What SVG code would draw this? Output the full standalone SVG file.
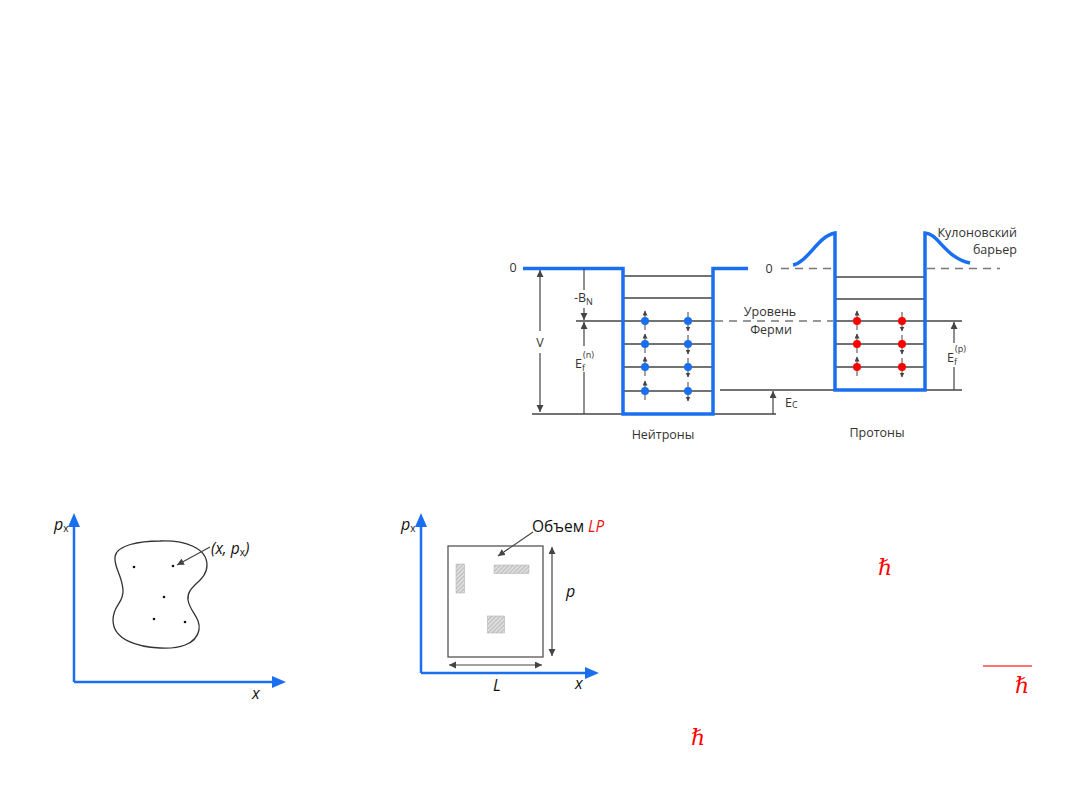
<svg xmlns="http://www.w3.org/2000/svg" width="1080" height="810" viewBox="0 0 1080 810">
<defs>
<style>
.t{font-family:"Open Sans","Liberation Sans",sans-serif;font-size:12.5px;fill:#333}
.it{font-family:"Open Sans","Liberation Sans",sans-serif;font-style:italic;font-size:16px;fill:#111}
.lv{stroke:#444;stroke-width:1.5;fill:none}
.well{stroke:#1a6ff0;stroke-width:3.5;fill:none;stroke-linejoin:miter}
.dash{stroke:#777;stroke-width:1.5;stroke-dasharray:8,6;fill:none}
.ar{stroke:#444;stroke-width:1.2;fill:none}
.sp{stroke:#444;stroke-width:1;fill:none}
.axis{stroke:#1a6ff0;stroke-width:2.5;fill:none}
.hb{font-family:"DejaVu Serif","Liberation Serif",serif;font-style:italic;font-size:22px;fill:#f00}
</style>
<marker id="ah" markerWidth="8" markerHeight="8" refX="7" refY="3.5" orient="auto-start-reverse" markerUnits="userSpaceOnUse">
<path d="M0,0 L7,3.5 L0,7 Z" fill="#444"/>
</marker>
<marker id="sh" markerWidth="6" markerHeight="6" refX="4.5" refY="2.5" orient="auto" markerUnits="userSpaceOnUse">
<path d="M0,0 L5,2.5 L0,5 Z" fill="#444"/>
</marker>
<pattern id="hatch" width="3" height="3" patternUnits="userSpaceOnUse" patternTransform="rotate(45)">
<rect width="3" height="3" fill="#ddd"/>
<line x1="0" y1="0" x2="0" y2="3" stroke="#999" stroke-width="1"/>
</pattern>
</defs>
<rect width="1080" height="810" fill="#fff"/>

<g id="neutron-well">
<path class="lv" d="M623,276H713M623,298H713M576,321H713M623,344H713M623,367H713M623,391H713"/>
<path class="lv" d="M532,414H776"/>
<path class="well" d="M523,268.5H623V414H713V268.5H748"/>
<text class="t" x="513" y="272" text-anchor="middle">0</text>
</g>

<g id="proton-well">
<path class="lv" d="M835,277H925M835,299H925M835,321H962M835,344H925M835,367H925"/>
<path class="lv" d="M720,390H962"/>
<path class="dash" d="M781,268.5H833M927,268.5H1000"/>
<path class="well" d="M793,265C808,262 818,236 835,233V390H925V233C938,233 945,258 970,263"/>
<text class="t" x="769" y="273" text-anchor="middle">0</text>
</g>

<g id="connectors">
<path class="dash" d="M715,321H833"/>
<line class="ar" x1="540" y1="270" x2="540" y2="412" marker-start="url(#ah)" marker-end="url(#ah)"/>
<line class="ar" x1="584" y1="269" x2="584" y2="320" marker-end="url(#ah)"/>
<line class="ar" x1="584" y1="414" x2="584" y2="322" marker-end="url(#ah)"/>
<line class="ar" x1="773" y1="414" x2="773" y2="391" marker-end="url(#ah)"/>
<line class="ar" x1="954" y1="390" x2="954" y2="322" marker-end="url(#ah)"/>
</g>

<g id="labels-top">
<rect x="533" y="331" width="14" height="22" fill="#fff"/>
<text class="t" x="540" y="347" text-anchor="middle">V</text>
<rect x="573" y="290" width="24" height="18" fill="#fff"/>
<text class="t" x="574" y="302">-B<tspan font-size="9" dy="3">N</tspan></text>
<rect x="573" y="346" width="26" height="26" fill="#fff"/>
<text class="t" x="575" y="368">E<tspan font-size="9" dy="3">f</tspan><tspan font-size="9" dx="-2" dy="-13">(n)</tspan></text>
<text class="t" x="785" y="407">E<tspan font-size="9" dy="1">C</tspan></text>
<rect x="945" y="343" width="40" height="24" fill="#fff"/>
<text class="t" x="947" y="362">E<tspan font-size="9" dy="3">f</tspan><tspan font-size="9" dx="-2" dy="-13">(p)</tspan></text>
<text class="t" x="770" y="316" text-anchor="middle">Уровень</text>
<text class="t" x="771" y="334" text-anchor="middle">Ферми</text>
<text class="t" x="1017" y="237" text-anchor="end">Кулоновский</text>
<text class="t" x="1017" y="254" text-anchor="end">барьер</text>
<text class="t" x="663" y="439" text-anchor="middle">Нейтроны</text>
<text class="t" x="877" y="437" text-anchor="middle">Протоны</text>
</g>

<g id="neutrons">
<g class="sp" marker-end="url(#sh)">
<line x1="645" y1="330" x2="645" y2="311"/><line x1="645" y1="353" x2="645" y2="334"/><line x1="645" y1="376" x2="645" y2="357"/><line x1="645" y1="400" x2="645" y2="381"/>
<line x1="688" y1="312" x2="688" y2="331"/><line x1="688" y1="335" x2="688" y2="354"/><line x1="688" y1="358" x2="688" y2="377"/><line x1="688" y1="382" x2="688" y2="401"/>
</g>
<g fill="#1a6ff0">
<circle cx="645" cy="321" r="4"/><circle cx="645" cy="344" r="4"/><circle cx="645" cy="367" r="4"/><circle cx="645" cy="391" r="4"/>
<circle cx="688" cy="321" r="4"/><circle cx="688" cy="344" r="4"/><circle cx="688" cy="367" r="4"/><circle cx="688" cy="391" r="4"/>
</g>
</g>

<g id="protons">
<g class="sp" marker-end="url(#sh)">
<line x1="857" y1="330" x2="857" y2="311"/><line x1="857" y1="353" x2="857" y2="334"/><line x1="857" y1="376" x2="857" y2="357"/>
<line x1="902" y1="312" x2="902" y2="331"/><line x1="902" y1="335" x2="902" y2="354"/><line x1="902" y1="358" x2="902" y2="377"/>
</g>
<g fill="#f00">
<circle cx="857" cy="321" r="4"/><circle cx="857" cy="344" r="4"/><circle cx="857" cy="367" r="4"/>
<circle cx="902" cy="321" r="4"/><circle cx="902" cy="344" r="4"/><circle cx="902" cy="367" r="4"/>
</g>
</g>

<g id="phase-space-1">
<path class="axis" d="M74,682V525M74,682H273"/>
<path d="M74,513L68,527H80Z M286,682L272,676V688Z" fill="#1a6ff0"/>
<text class="it" x="54" y="530">p<tspan font-size="10" font-style="normal" dy="2">x</tspan></text>
<text class="it" x="252" y="699">x</text>
<path d="M160,541C185,540 207,548 207,565C207,582 186,585 188,600C190,612 201,618 199,630C196,645 178,649 160,648C138,647 113,640 113,620C113,605 124,603 123,590C122,575 114,568 115,557C116,545 140,541 160,541Z" fill="none" stroke="#333" stroke-width="1.3"/>
<g fill="#111">
<circle cx="134" cy="567" r="1.3"/><circle cx="173" cy="566" r="1.3"/><circle cx="164" cy="597" r="1.3"/><circle cx="154" cy="619" r="1.3"/><circle cx="185" cy="622" r="1.3"/>
</g>
<line class="ar" x1="210" y1="547" x2="177" y2="565" marker-end="url(#ah)"/>
<text class="it" x="211" y="554" style="font-size:15.5px">(x, p<tspan font-size="10" font-style="normal" dy="2">x</tspan><tspan dy="-2">)</tspan></text>
</g>

<g id="phase-space-2">
<path class="axis" d="M421,673V525M421,673H586"/>
<path d="M421,513L415,527H427Z M599,673L585,667V679Z" fill="#1a6ff0"/>
<text class="it" x="401" y="530">p<tspan font-size="10" font-style="normal" dy="2">x</tspan></text>
<text class="it" x="575" y="689">x</text>
<rect x="448" y="546" width="95" height="111" fill="none" stroke="#555" stroke-width="1.3"/>
<rect x="456" y="564" width="8.5" height="29" fill="url(#hatch)" stroke="#aaa" stroke-width="0.5"/>
<rect x="494" y="565" width="35" height="8.5" fill="url(#hatch)" stroke="#aaa" stroke-width="0.5"/>
<rect x="487.5" y="616" width="17" height="17" fill="url(#hatch)" stroke="#aaa" stroke-width="0.5"/>
<line class="ar" x1="533" y1="532" x2="498" y2="556" marker-end="url(#ah)"/>
<text class="t" x="532" y="532" style="font-size:15.5px;fill:#111">Объем <tspan font-style="italic" fill="#e11">LP</tspan></text>
<line class="ar" x1="552" y1="547" x2="552" y2="656" marker-start="url(#ah)" marker-end="url(#ah)"/>
<text class="it" x="566" y="597">p</text>
<line class="ar" x1="449" y1="665" x2="542" y2="665" marker-start="url(#ah)" marker-end="url(#ah)"/>
<text class="it" x="493" y="691">L</text>
</g>

<g id="hbar">
<text class="hb" x="878" y="575">ℏ</text>
<line x1="983" y1="666" x2="1032" y2="666" stroke="#f44" stroke-width="1.5"/>
<text class="hb" x="1015" y="693">ℏ</text>
<text class="hb" x="691" y="745">ℏ</text>
</g>
</svg>
